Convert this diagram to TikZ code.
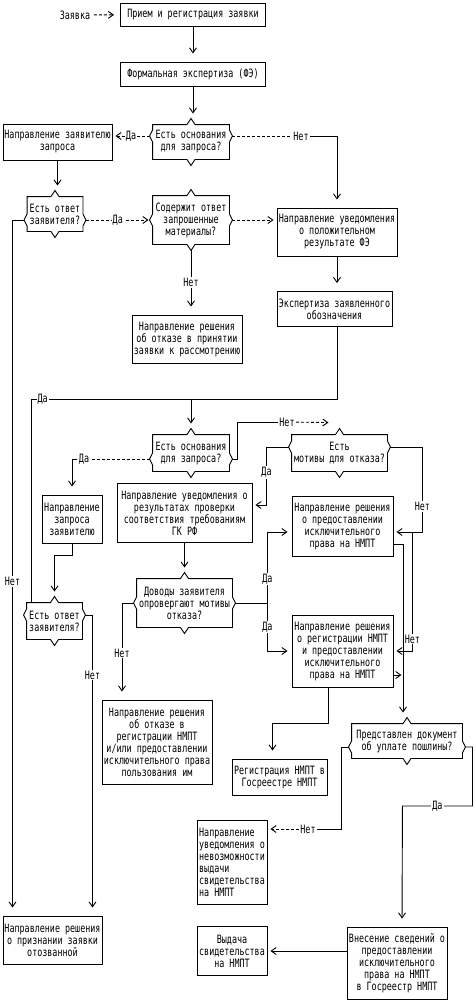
\documentclass[tikz,border=0pt]{standalone}
\usepackage{fontspec}
\newfontfamily\asciifont[FakeStretch=0.73]{DejaVu Sans Mono}
\newcommand{\boxfont}{\asciifont\fontsize{11.5}{12}\selectfont}
\usetikzlibrary{arrows.meta, calc}

% frame of a decision: /\ on top, \/ below, < > on the sides
\newcommand{\decframe}[2]{%
  \draw (#1.north west) -- ([xshift=-4pt]#1.north) -- ([yshift=6pt]#1.north) -- ([xshift=4pt]#1.north)
    -- (#1.north east) -- ([yshift=#2+6pt]#1.east) -- ([xshift=3pt,yshift=#2]#1.east) -- ([yshift=#2-6pt]#1.east)
    -- (#1.south east) -- ([xshift=4pt]#1.south) -- ([yshift=-6pt]#1.south) -- ([xshift=-4pt]#1.south)
    -- (#1.south west) -- ([yshift=#2-6pt]#1.west) -- ([xshift=-3pt,yshift=#2]#1.west) -- ([yshift=#2+6pt]#1.west) -- cycle;
  \coordinate (#1-l) at ([xshift=-3pt,yshift=#2]#1.west);
  \coordinate (#1-r) at ([xshift=3pt,yshift=#2]#1.east);
}

\begin{document}
\begin{tikzpicture}[x=1pt, y=-1pt, line width=0.9pt,
    box/.style={draw, rectangle, align=center, inner sep=0pt, font=\boxfont},
    decision/.style={rectangle, align=center, inner sep=0pt, font=\boxfont},
    lbl/.style={fill=white, inner sep=1pt, font=\boxfont},
    arr/.style={-{Straight Barb[length=5pt,width=7pt]}, shorten >=3pt},
    vshort/.style={shorten >=8pt},
    tod/.style={shorten >=11pt},
    dsh/.style={dash pattern=on 3pt off 2pt}]
    \useasboundingbox (0,0) rectangle (475,1001);

    % upper part
    \node[font=\boxfont] (req) at (75,15) {Заявка};
    \node[box, minimum width=145pt, minimum height=23pt] (b1) at (193,14.5) {Прием и регистрация заявки};
    \node[box, minimum width=145pt, minimum height=24pt] (b2) at (193,74) {Формальная экспертиза (ФЭ)};
    \node[decision, minimum width=76pt, minimum height=34pt] (d1) at (191,142) {Есть основания\\для запроса?};
    \node[box, minimum width=109pt, minimum height=36pt] (b3) at (57.5,142) {Направление заявителю\\запроса};
    \node[decision, minimum width=55pt, minimum height=34pt] (d2) at (55,214) {Есть ответ\\заявителя?};
    \node[decision, minimum width=76pt, minimum height=48pt] (d3) at (191,220) {Содержит ответ\\запрошенные\\материалы?};
    \node[box, minimum width=120pt, minimum height=48pt] (b4) at (337,232) {Направление уведомления\\о положительном\\результате ФЭ};
    \node[box, minimum width=110pt, minimum height=48pt] (b5) at (187,339) {Направление решения\\об отказе в принятии\\заявки к рассмотрению};
    \node[box, minimum width=115pt, minimum height=35pt] (b6) at (334.5,309) {Экспертиза заявленного\\обозначения};

    % middle part
    \node[decision, minimum width=76pt, minimum height=36pt] (d4) at (191,453) {Есть основания\\для запроса?};
    \node[decision, minimum width=95pt, minimum height=36pt] (d5) at (339.5,453) {Есть\\мотивы для отказа?};
    \node[box, minimum width=60pt, minimum height=48pt] (b7) at (72,519) {Направление\\запроса\\заявителю};
    \node[box, minimum width=135pt, minimum height=59pt] (b8) at (184.5,513) {Направление уведомления о\\результатах проверки\\соответствия требованиям\\ГК РФ};
    \node[box, minimum width=101pt, minimum height=60pt] (b9) at (342.5,526) {Направление решения\\о предоставлении\\исключительного\\права на НМПТ};
    \node[decision, minimum width=95pt, minimum height=48pt] (d6) at (184.5,603) {Доводы заявителя\\опровергают мотивы\\отказа?};
    \node[decision, minimum width=55pt, minimum height=36pt] (d7) at (54.5,621) {Есть ответ\\заявителя?};
    \node[box, minimum width=101pt, minimum height=72pt] (b10) at (342.5,651) {Направление решения\\о регистрации НМПТ\\и предоставлении\\исключительного\\права на НМПТ};
    \node[box, minimum width=110pt, minimum height=84pt] (b11) at (157,742) {Направление решения\\об отказе в\\регистрации НМПТ\\и/или предоставлении\\исключительного права\\пользования им};

    % lower part
    \node[box, minimum width=95pt, minimum height=36pt] (b12) at (279.5,777) {Регистрация НМПТ в\\Госреестре НМПТ};
    \node[decision, minimum width=110pt, minimum height=34pt] (d8) at (407,741) {Представлен документ\\об уплате пошлины?};
    \node[box, align=left, minimum width=70pt, minimum height=84pt] (b13) at (232,862) {Направление\\уведомления о\\невозможности\\выдачи\\свидетельства\\на НМПТ};
    \node[box, minimum width=99pt, minimum height=48pt] (b16) at (52.5,940) {Направление решения\\о признании заявки\\отозванной};
    \node[box, minimum width=100pt, minimum height=72pt] (b14) at (397,963) {Внесение сведений о\\предоставлении\\исключительного\\права на НМПТ\\в Госреестр НМПТ};
    \node[box, minimum width=70pt, minimum height=49pt] (b15) at (232,951) {Выдача\\свидетельства\\на НМПТ};

    \decframe{d1}{6pt}
    \decframe{d2}{-6pt}
    \decframe{d3}{0pt}
    \decframe{d4}{-6pt}
    \decframe{d5}{6pt}
    \decframe{d6}{0pt}
    \decframe{d7}{6pt}
    \decframe{d8}{-6pt}

    % labels that split dashed and solid lines
    \node[lbl] (n1) at (301,136) {Нет};
    \node[lbl] (n4) at (84,459) {Да};
    \node[lbl] (n5) at (287,422) {Нет};
    \node[lbl] (n8) at (308,829) {Нет};

    % connectors
    \draw[dsh,arr,shorten >=6pt] (req) -- (b1);
    \draw[arr,vshort] (b1) -- (b2);
    \draw[arr,tod] (b2) -- (b2 |- d1.north);
    \draw[dsh,arr] (d1-l) -- node[lbl]{Да} (b3.east |- d1-l);
    \draw[dsh] (d1-r) -- (n1);
    \draw[arr,vshort] (n1) -| (b4);
    \draw[arr,tod] (b3) -- (b3 |- d2.north);
    \draw[arr,vshort] (d2-l) -| node[lbl,pos=0.76]{Нет} ([xshift=-40pt]b16.north);
    \draw[dsh,arr,shorten >=1pt] (d2-r) -- node[lbl]{Да} (d3-l);
    \draw[dsh,arr] (d3-r) -- (b4.west |- d3-r);
    \draw[arr,vshort] ([yshift=-6pt]d3.south) -- node[lbl]{Нет} (d3.south |- b5.north);
    \draw[arr,vshort] (b4) -- (b4 |- b6.north);
    \draw[arr,tod] (b4 |- b6.south) -- ++(0,72) coordinate (jr) -| (d4.north);
    \draw ([xshift=5pt]d7.north west) |- node[lbl,pos=0.535]{Да} (d4.north |- jr);
    \draw[dsh] (d4-l) -- (n4);
    \draw[arr,vshort] (n4) -| (b7);
    \draw (d4-r) -- ++(5,0) |- (n5);
    \draw[dsh,arr,shorten >=0pt] (n5) -- ([xshift=-11pt,yshift=12pt]d5.north);
    \draw[arr,tod] (b7) -- ++(0,36) -| (d7.north);
    \draw[arr,vshort] (d7-r) -| node[lbl,pos=0.6]{Нет} ([xshift=40pt]b16.north);
    \draw[arr] (d5-l) -- ++(-22,0) |- node[lbl,pos=0.22]{Да} ([yshift=8pt]b8.east);
    \draw[arr,tod] (b8) -- (d6);
    \draw[arr,shorten >=4pt] (d6-r) -- ++(32,0) |- node[lbl,pos=0.17]{Да} ([yshift=-6pt]b9.west);
    \draw[arr,shorten >=4pt] (d6-r) -- ++(32,0) |- node[lbl,pos=0.25]{Да} (b10.west);
    \draw[arr,vshort] (d6-l) -| node[lbl,pos=0.76]{Нет} ([xshift=-35pt]b11.north);
    \draw[arr] (d5-r) -- ++(32,0) |- node[lbl,pos=0.35]{Нет} ([yshift=-6pt]b9.east);
    \draw[arr] ([xshift=19pt,yshift=-6pt]b9.east) |- node[lbl,pos=0.45]{Нет} (b10.east);
    \draw[arr,tod] ([yshift=-18pt]b9.east) -| ([xshift=-4pt]d8.north);
    \draw[arr,shorten >=1pt] ([yshift=-24pt]b10.east) -- ++(9,0);
    \draw[arr,vshort] ([xshift=-14pt]b10.south) -- ++(0,36) -| ([xshift=-7pt]b12.north);
    \draw (d8-l) -- ++(-7,0) |- (n8);
    \draw[dsh,arr] (n8) -- (b13.east |- n8);
    \draw[arr,vshort] (d8-r) -- ++(7,0) -- ++(0,59) -- node[lbl]{Да} ++(-70,0) -- ([xshift=5pt]b14.north);
    \draw[arr] (b14.west |- b15) -- (b15);
\end{tikzpicture}
\end{document}
